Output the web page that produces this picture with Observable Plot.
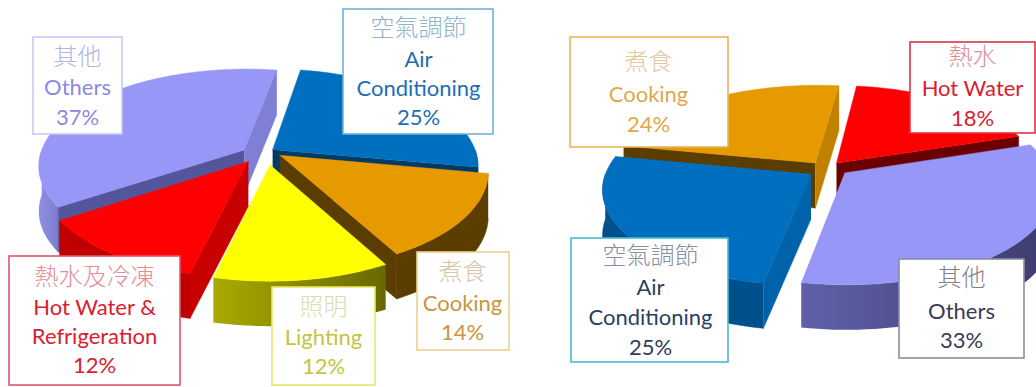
<!DOCTYPE html>
<html>
<head>
<meta charset="utf-8">
<style>html,body{margin:0;padding:0;background:#fff}svg{display:block}</style>
<script src="https://cdn.jsdelivr.net/npm/d3@7"></script>
<script src="https://cdn.jsdelivr.net/npm/@observablehq/plot@0.6"></script>
</head>
<body>
<div id="chart"></div>
<script>
// Energy end-use shares, two exploded pies
const leftCategories = ["Others", "Air Conditioning", "Cooking", "Lighting", "Hot Water & Refrigeration"];
const leftShares = [37, 25, 14, 12, 12];
const rightCategories = ["Cooking", "Hot Water", "Others", "Air Conditioning"];
const rightShares = [24, 18, 33, 25];

const W = 1036, H = 387;

// Tilted-disc view of each pie: starting angle in degrees clockwise from the back,
// plus extra pull-out in pixels for slices that sit further from the centre
const leftView = {cx: 258, cy: 154, ry: 98, start: 237, paint: ["Others", "Air Conditioning", "Cooking", "Hot Water & Refrigeration", "Lighting"],
  pull: {"Lighting": [9, 2], "Cooking": [7, -4]}};
const rightView = {cx: 825, cy: 169, ry: 95, start: 281, paint: ["Cooking", "Hot Water", "Air Conditioning", "Others"],
  pull: {"Others": [6, -2]}};
const RX = 204, PERSPECTIVE = 0.16, EXPLODE = 0.085, DEPTH = 45;

// top surface, outer wall, clockwise-end face, clockwise-start face
const leftStyle = {
  "Others": ["#9797f8", "url(#othersLight)", "#7f7fd6", "#55559c"],
  "Air Conditioning": ["#006fc0", "#00508c", "#003a66", "#00508c"],
  "Cooking": ["#e69a00", "#5c3d00", "#5c3d00", "#5c3d00"],
  "Lighting": ["#ffff00", "url(#lightingWall)", "#8a8a00", "#8a8a00"],
  "Hot Water & Refrigeration": ["#ff0000", "#c00000", "#c00000", "#c80000"]
};
const rightStyle = {
  "Cooking": ["#e69a00", "#5c3d00", "#c08000", "#5c3d00"],
  "Hot Water": ["#ff0000", "#c00000", "#6b0000", "#6b0000"],
  "Others": ["#9797f8", "url(#othersDark)", "#55559c", "#55559c"],
  "Air Conditioning": ["#006fc0", "#00508c", "#00508c", "#0062a8"]
};

// Callout boxes: box corners, text centre, line positions and colours
const leftCallouts = [
  {key: "Air Conditioning", box: [343, 9, 493, 134], cx: 418, border: "#6fb2d6", head: "#90b4cc", ink: "#1f6db3",
   lines: [["空氣調節", 28], ["Air", 59], ["Conditioning", 88]], pct: 117},
  {key: "Others", box: [33, 37, 122, 134], cx: 77, border: "#c8c8f0", head: "#b2b2e6", ink: "#8a8ae0",
   lines: [["其他", 57], ["Others", 87]], pct: 117},
  {key: "Hot Water & Refrigeration", box: [9, 256, 180, 385], cx: 94, border: "#e0566a", head: "#e48c98", ink: "#d9202f",
   lines: [["熱水及冷凍", 277], ["Hot Water &", 307], ["Refrigeration", 336]], pct: 365},
  {key: "Lighting", box: [272, 287, 375, 385], cx: 323, border: "#e8e864", head: "#dcdcb0", ink: "#c4c444",
   lines: [["照明", 307], ["Lighting", 337]], pct: 366},
  {key: "Cooking", box: [417, 252, 509, 350], cx: 462, border: "#eed092", head: "#d8c4a8", ink: "#c8963c",
   lines: [["煮食", 272], ["Cooking", 303]], pct: 332}
];
const rightCallouts = [
  {key: "Cooking", box: [570, 37, 728, 147], cx: 648, border: "#e8b458", head: "#e0c8a0", ink: "#e0a848",
   lines: [["煮食", 62], ["Cooking", 94]], pct: 124},
  {key: "Hot Water", box: [910, 42, 1035, 133], cx: 972, border: "#dc3444", head: "#e08c98", ink: "#d9202f",
   lines: [["熱水", 57], ["Hot Water", 88]], pct: 118},
  {key: "Air Conditioning", box: [571, 238, 728, 362], cx: 650, border: "#44bcd2", head: "#8890a0", ink: "#2c3e60",
   lines: [["空氣調節", 256], ["Air", 287], ["Conditioning", 317]], pct: 347},
  {key: "Others", box: [899, 259, 1024, 358], cx: 961, border: "#8c8ca4", head: "#808088", ink: "#3a3a58",
   lines: [["其他", 278], ["Others", 311]], pct: 340}
];

const rad = d => d * Math.PI / 180;

// Projects a disc point at an angle and radius, pushed out along the slice's mid-angle
function project(view, mid, angle, r, drop = 0) {
  const px = r * Math.sin(rad(angle)) + EXPLODE * Math.sin(rad(mid));
  const py = -r * Math.cos(rad(angle)) - EXPLODE * Math.cos(rad(mid));
  const s = 1 + PERSPECTIVE * py;
  return {x: view.cx + RX * px * s, y: view.cy + view.ry * py * s + drop};
}

// Angles every slice spans, from its share of the total
function sliceAngles(categories, shares, start) {
  const total = d3.sum(shares);
  let a = start;
  return categories.map((key, i) => {
    const a0 = a;
    a += shares[i] / total * 360;
    return {key, a0, a1: a, mid: (a0 + a) / 2};
  });
}

function arc(view, mid, a0, a1, drop = 0) {
  const n = Math.max(2, Math.ceil((a1 - a0) / 2));
  return d3.range(n + 1).map(i => project(view, mid, a0 + (a1 - a0) * i / n, 1, drop));
}

const polygon = (points, fill) => Plot.line(points, {x: "x", y: "y", fill, stroke: fill.startsWith("url") ? "none" : fill, strokeWidth: 0.5, curve: "linear"});

function pieMarks(view, categories, shares, style) {
  const slices = sliceAngles(categories, shares, view.start);
  const marks = [];
  for (const key of view.paint) {
    const {a0, a1, mid} = slices.find(s => s.key === key);
    const [top, wall, endFace, startFace] = style[key];
    const [dx, dy] = view.pull[key] ?? [0, 0];
    const draw = (points, fill) => marks.push(polygon(points.map(p => ({x: p.x + dx, y: p.y + dy})), fill));
    const apex = project(view, mid, mid, 0);
    const apexLow = project(view, mid, mid, 0, DEPTH);
    const outer = a => project(view, mid, a, 1);
    const outerLow = a => project(view, mid, a, 1, DEPTH);
    // front-facing stretch of the rim, tried at both wraps of the circle
    for (const shift of [0, 360]) {
      const w0 = Math.max(a0, 90 + shift), w1 = Math.min(a1, 270 + shift);
      if (w1 > w0) draw([...arc(view, mid, w0, w1), ...arc(view, mid, w0, w1, DEPTH).reverse()], wall);
    }
    // radial cut faces are shown only when they turn toward the viewer
    if (-Math.sin(rad(a0)) > 0) draw([apex, outer(a0), outerLow(a0), apexLow], startFace);
    if (Math.sin(rad(a1)) > 0) draw([apex, outer(a1), outerLow(a1), apexLow], endFace);
    draw([apex, ...arc(view, mid, a0, a1)], top);
  }
  return marks;
}

function calloutMarks(callouts, categories, shares) {
  const rows = callouts.map(c => ({...c, value: shares[categories.indexOf(c.key)]}));
  const fontFamily = "Lato, 'Noto Sans CJK TC', sans-serif";
  const heads = rows.map(c => ({text: c.lines[0][0], y: c.lines[0][1], x: c.cx, color: c.head}));
  const body = rows.flatMap(c => [
    ...c.lines.slice(1).map(([text, y]) => ({text, y, x: c.cx, color: c.ink})),
    {text: `${c.value}%`, y: c.pct, x: c.cx, color: c.ink}
  ]);
  return [
    Plot.rect(rows, {x1: d => d.box[0], y1: d => d.box[1], x2: d => d.box[2], y2: d => d.box[3], fill: "#fff", stroke: d => d.border, strokeWidth: 1.6}),
    Plot.text(heads, {x: "x", y: "y", text: "text", fill: d => d.color, fontSize: 24, fontFamily: "'Noto Sans CJK TC', sans-serif", fontWeight: 300, lineAnchor: "middle"}),
    Plot.text(body, {x: "x", y: "y", text: "text", fill: d => d.color, fontSize: 22, fontFamily, lineAnchor: "middle"})
  ];
}

// Horizontal shading used on the curved walls
const gradientDefs = () => {
  const defs = d3.create("svg:defs");
  for (const [id, from, to] of [
    ["othersLight", "#8f8fe6", "#7c7cce"],
    ["lightingWall", "#aaaa00", "#686800"],
    ["othersDark", "#6060aa", "#3c3c6c"]
  ]) {
    const g = defs.append("linearGradient").attr("id", id);
    g.append("stop").attr("offset", "0%").attr("stop-color", from);
    g.append("stop").attr("offset", "100%").attr("stop-color", to);
  }
  return defs.node();
};

const chart = Plot.plot({
  width: W,
  height: H,
  margin: 0,
  x: {domain: [0, W], range: [0, W], axis: null},
  y: {domain: [0, H], range: [0, H], axis: null},
  color: {type: "identity"},
  marks: [
    gradientDefs,
    ...pieMarks(leftView, leftCategories, leftShares, leftStyle),
    ...pieMarks(rightView, rightCategories, rightShares, rightStyle),
    ...calloutMarks(leftCallouts, leftCategories, leftShares),
    ...calloutMarks(rightCallouts, rightCategories, rightShares)
  ]
});
document.getElementById("chart").append(chart);
</script>
</body>
</html>
